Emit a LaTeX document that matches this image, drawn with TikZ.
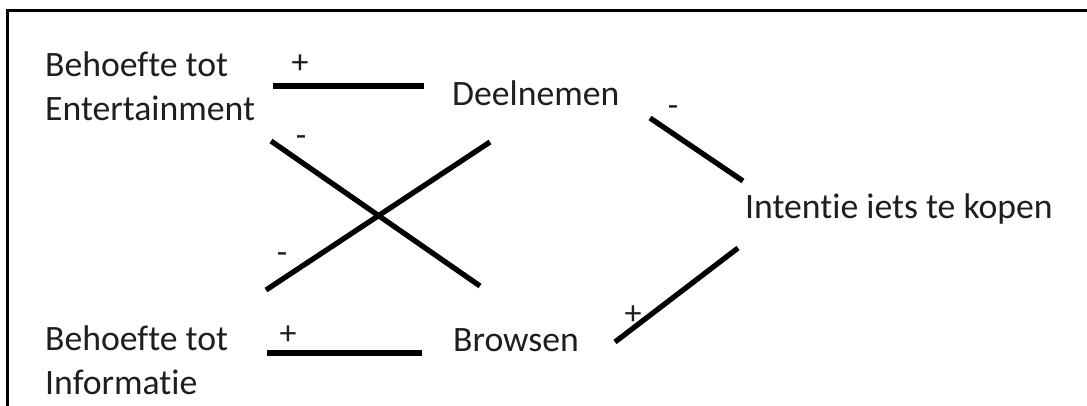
\documentclass[tikz,border=0pt]{standalone}
\usepackage{fontspec}
\setmainfont{Carlito}[Ligatures={NoCommon}]
\definecolor{ink}{HTML}{1E1E1E}
\tikzset{
  lbl/.style={inner sep=0pt, anchor=base west, text=ink, font=\fontsize{35.7}{44}\selectfont, align=left},
  sgn/.style={inner sep=0pt, anchor=center, text=ink, font=\fontsize{34}{40}\selectfont},
  link/.style={draw=black, line width=5.3pt},
  frame/.style={draw=black, line width=3pt}
}
\begin{document}
\begin{tikzpicture}[x=1pt,y=-1pt]
\useasboundingbox (0,0) rectangle (1087,405);
% frame
\coordinate (fr1) at (1090,10);
\coordinate (fr2) at (7,10);
\coordinate (fr3) at (7,408);
\draw[frame] (fr1) -- (fr2) -- (fr3);
% nodes
\node[lbl] (ent) at (45,120) {Behoefte tot\\Entertainment};
\node[lbl] (inf) at (45,394) {Behoefte tot\\Informatie};
\node[lbl] (deel) at (452,105) {Deelnemen};
\node[lbl] (brow) at (453,351) {Browsen};
\node[lbl] (int) at (745,218) {Intentie iets te kopen};
% connector end points
\coordinate (a1) at (273,86);  \coordinate (a2) at (424,86);
\coordinate (b1) at (267,353); \coordinate (b2) at (422,353);
\coordinate (c1) at (271,141); \coordinate (c2) at (480,286);
\coordinate (d1) at (266,290); \coordinate (d2) at (490,142);
\coordinate (e1) at (650,118); \coordinate (e2) at (743,181);
\coordinate (f1) at (615,342); \coordinate (f2) at (738,248);
\draw[link] (a1) -- (a2);
\draw[link] (b1) -- (b2);
\draw[link] (c1) -- (c2);
\draw[link] (d1) -- (d2);
\draw[link] (e1) -- (e2);
\draw[link] (f1) -- (f2);
% signs
\node[sgn] (s1) at (300,64) {+};
\node[sgn] (s2) at (288,335) {+};
\node[sgn] (s3) at (633,315) {+};
\node[sgn] (s4) at (301,141) {-};
\node[sgn] (s5) at (282,258) {-};
\node[sgn] (s6) at (673,111) {-};
\end{tikzpicture}
\end{document}
